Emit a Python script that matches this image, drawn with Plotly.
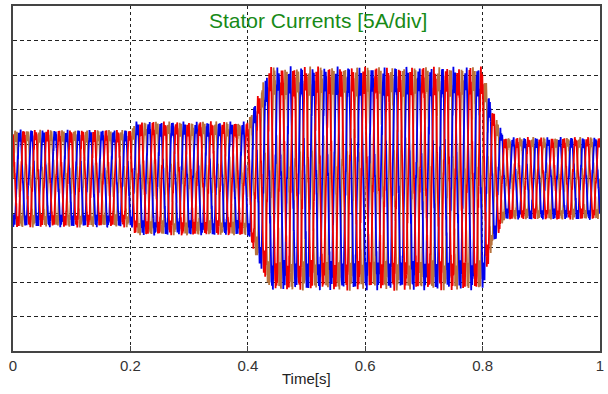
import numpy as np
import plotly.graph_objects as go

# ---- data ----
title_text = "Stator Currents [5A/div]"
x_ticks = [0, 0.2, 0.4, 0.6, 0.8, 1.0]
x_ticklabels = ["0", "0.2", "0.4", "0.6", "0.8", "1"]
# envelope of the phase-current amplitude (A) vs time (s)
env_t = [0.0, 0.20, 0.21, 0.40, 0.437, 0.80, 0.815, 0.837, 1.0]
env_amp = [6.5, 6.5, 7.6, 7.6, 14.9, 14.9, 9.6, 5.5, 5.5]
supply_freq = 50.0          # Hz
harm5_ratio = 0.06          # 5th harmonic share
harm7_ratio = 0.04          # 7th harmonic share
ripple_ratio = 0.07         # switching ripple share
ripple_freq = 1237.0        # Hz
ripple2_ratio = 0.04
ripple2_freq = 613.0        # Hz
phase_names = ["ia", "ib", "ic"]
phase_shift_deg = [0, -120, 120]
phase_colors = ["#b8743e", "#0000ee", "#ee0000"]

# ---- build the waveforms ----
t = np.linspace(0, 1, 12001)
amp = np.interp(t, env_t, env_amp)
traces = []
for k, (name, sh, col) in enumerate(zip(phase_names, phase_shift_deg, phase_colors)):
    ph = np.deg2rad(sh)
    w = 2 * np.pi * supply_freq * t + ph
    i = amp * (np.sin(w)
               - harm5_ratio * np.sin(5 * w)
               + harm7_ratio * np.sin(7 * w)
               + ripple_ratio * np.sin(2 * np.pi * ripple_freq * t + 3 * ph + k)
               + ripple2_ratio * np.sin(2 * np.pi * ripple2_freq * t + 2 * k))
    traces.append(go.Scatter(x=t, y=i, mode="lines", name=name,
                             line=dict(color=col, width=1.8), showlegend=False))

fig = go.Figure(traces)

fig.add_annotation(text=title_text, xref="paper", yref="paper", x=0.52, y=1.0,
                   yanchor="top", xanchor="center", yshift=-1, showarrow=False,
                   font=dict(family="Liberation Sans, Arial", size=21, color="#178a17"))
fig.add_annotation(text="Time[s]", xref="paper", yref="paper", x=0.5, y=0,
                   yanchor="top", xanchor="center", yshift=-17, showarrow=False,
                   font=dict(family="Liberation Sans, Arial", size=15, color="#222222"))

fig.update_xaxes(range=[0, 1], tickvals=x_ticks, ticktext=x_ticklabels,
                 showgrid=True, gridcolor="#222222", griddash="3px,3px", gridwidth=1,
                 showline=True, linecolor="#444444", linewidth=2, mirror=True,
                 ticks="inside", ticklen=5, tickcolor="#444444", zeroline=False,
                 tickfont=dict(family="Liberation Sans, Arial", size=15, color="#333333"))
fig.update_yaxes(range=[-25, 25], dtick=5, showticklabels=False,
                 showgrid=True, gridcolor="#222222", griddash="4px,3px", gridwidth=1,
                 showline=True, linecolor="#444444", linewidth=2, mirror=True,
                 ticks="", zeroline=False)

fig.update_layout(width=608, height=394, paper_bgcolor="white", plot_bgcolor="white",
                  margin=dict(l=13, r=8, t=4, b=43))

fig.write_html("out.html")
